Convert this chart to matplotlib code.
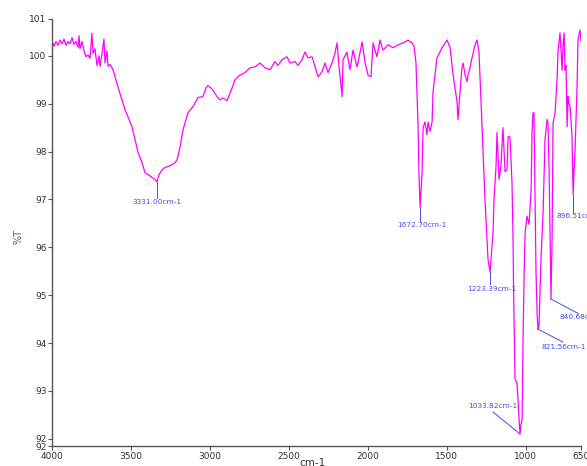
import matplotlib
matplotlib.use("Agg")
import matplotlib.pyplot as plt

# FTIR spectrum: wavenumber (cm-1) and %T, row by row
wavenumber = [
    4000, 3987, 3975, 3962, 3949, 3937, 3924, 3911, 3899, 3886, 3873, 3861,
    3848, 3835, 3829, 3823, 3810, 3797, 3785, 3772, 3759, 3747, 3740, 3728,
    3715, 3702, 3696, 3683, 3671, 3664, 3652, 3645, 3633, 3620, 3607, 3601,
    3582, 3557, 3538, 3519, 3494, 3474, 3455, 3430, 3411, 3392, 3367, 3348,
    3335, 3322, 3303, 3284, 3265, 3240, 3221, 3208, 3189, 3170, 3139, 3107,
    3075, 3044, 3025, 3012, 2987, 2955, 2936, 2917, 2892, 2860, 2841, 2809,
    2778, 2746, 2714, 2683, 2651, 2619, 2588, 2569, 2543, 2512, 2493, 2461,
    2442, 2417, 2398, 2379, 2353, 2334, 2315, 2290, 2271, 2252, 2227, 2208,
    2195, 2182, 2163, 2157, 2132, 2113, 2094, 2068, 2036, 2017, 1999, 1980,
    1967, 1942, 1923, 1904, 1872, 1840, 1809, 1777, 1745, 1720, 1707, 1695,
    1682, 1676, 1669, 1657, 1650, 1638, 1625, 1619, 1606, 1593, 1587, 1562,
    1530, 1498, 1479, 1460, 1435, 1429, 1416, 1404, 1397, 1384, 1372, 1365,
    1353, 1340, 1321, 1308, 1296, 1277, 1270, 1258, 1245, 1239, 1226, 1207,
    1201, 1188, 1182, 1169, 1157, 1144, 1131, 1118, 1112, 1100, 1087, 1081,
    1076, 1068, 1061, 1055, 1049, 1042, 1036, 1030, 1023, 1017, 1010, 1004,
    992, 979, 966, 960, 954, 948, 941, 935, 928, 922, 916, 903,
    890, 878, 865, 859, 852, 846, 840, 833, 827, 814, 802, 795,
    783, 776, 770, 764, 757, 751, 745, 738, 732, 726, 719, 707,
    700, 694, 688, 681, 675, 669, 662, 656, 650,
]
transmittance = [
    100.31, 100.20, 100.30, 100.22, 100.33, 100.25, 100.35, 100.22, 100.30, 100.25, 100.38, 100.24,
    100.30, 100.18, 100.42, 100.15, 100.30, 100.10, 99.98, 100.02, 99.95, 100.47, 100.05, 100.15,
    99.80, 100.00, 99.78, 100.05, 100.35, 99.85, 100.10, 99.78, 99.82, 99.75, 99.65, 99.56,
    99.35, 99.08, 98.88, 98.73, 98.52, 98.25, 97.98, 97.77, 97.56, 97.52, 97.46, 97.42,
    97.37, 97.52, 97.62, 97.67, 97.69, 97.73, 97.77, 97.83, 98.10, 98.46, 98.81, 98.94,
    99.13, 99.15, 99.33, 99.38, 99.31, 99.15, 99.08, 99.12, 99.06, 99.33, 99.50, 99.60,
    99.65, 99.75, 99.77, 99.85, 99.75, 99.71, 99.88, 99.80, 99.92, 99.98, 99.85, 99.88,
    99.80, 99.92, 100.08, 99.96, 99.98, 99.77, 99.56, 99.67, 99.85, 99.65, 99.85, 100.06,
    100.27, 99.77, 99.15, 99.92, 100.08, 99.71, 100.12, 99.77, 100.29, 99.85, 99.60, 99.56,
    100.27, 99.98, 100.33, 100.12, 100.23, 100.17, 100.23, 100.27, 100.33, 100.27, 100.19, 99.85,
    98.56, 97.52, 96.83, 97.52, 98.50, 98.62, 98.35, 98.62, 98.42, 98.62, 99.25, 99.96,
    100.17, 100.33, 100.17, 99.60, 99.04, 98.67, 99.25, 99.75, 99.85, 99.60, 99.46, 99.60,
    99.75, 99.96, 100.23, 100.33, 100.08, 98.56, 98.04, 97.00, 96.17, 95.75, 95.48, 96.31,
    97.00, 97.69, 98.40, 97.42, 97.69, 98.50, 97.58, 97.62, 98.31, 98.31, 97.35, 96.30,
    94.90, 93.25, 93.20, 93.15, 92.83, 92.40, 92.10, 92.30, 92.42, 94.08, 95.48, 96.30,
    96.65, 96.48, 97.20, 98.40, 98.81, 98.81, 97.00, 95.50, 94.60, 94.29, 94.35, 95.80,
    96.73, 98.25, 98.67, 98.60, 97.60, 96.20, 94.92, 96.20, 98.60, 98.81, 99.50, 100.12,
    100.48, 100.10, 99.70, 100.20, 100.48, 99.70, 99.80, 98.52, 99.15, 99.00, 98.94, 98.31,
    97.10, 97.60, 98.00, 98.70, 99.35, 100.33, 100.45, 100.54, 100.30,
]

peak_labels = ["3331.00cm-1", "1672.70cm-1", "1223.39cm-1", "1033.82cm-1",
               "821.56cm-1", "840.68cm-1", "896.51cm-1"]
# leader line: peak (x, y) -> (x, y), then label centre and alignment
peak_marks = [
    (3335, 97.37, 3335, 97.04),
    (1669, 96.83, 1669, 96.54),
    (1226, 95.48, 1226, 95.23),
    (1036, 92.10, 1207, 92.56),
    (922, 94.29, 764, 94.02),
    (840, 94.92, 669, 94.62),
    (700, 97.10, 700, 96.73),
]
label_pos = [
    (3335, 96.95, "center"), (1660, 96.46, "center"), (1213, 95.12, "center"),
    (1207, 92.69, "center"), (757, 93.92, "center"), (783, 94.54, "left"),
    (808, 96.65, "left"),
]

y_lo, y_hi = 91.85, 100.77
y_ticks = [y_lo, 92, 93, 94, 95, 96, 97, 98, 99, 100, y_hi]
y_ticklabels = ["92", "92", "93", "94", "95", "96", "97", "98", "99", "100", "101"]
x_ticks = [4000, 3500, 3000, 2500, 2000, 1500, 1000, 650]

fig = plt.figure(figsize=(5.87, 4.66), dpi=100)
ax = fig.add_axes([52 / 587, 20 / 466, 529 / 587, 427 / 466])

ax.plot(wavenumber, transmittance, color="#ff00ff", lw=0.9)

blue = "#4a4af0"
for txt, (px, py, lx, ly), (tx, ty, ha) in zip(peak_labels, peak_marks, label_pos):
    ax.plot([px, lx], [py, ly], color=blue, lw=0.7)
    ax.text(tx, ty, txt, color=blue, fontsize=5.3, ha=ha, va="center", clip_on=False)

ax.set_xlim(4000, 650)
ax.set_ylim(y_lo, y_hi)
ax.set_xticks(x_ticks)
ax.set_xticklabels([str(v) for v in x_ticks])
ax.set_yticks(y_ticks)
ax.set_yticklabels(y_ticklabels)

for side in ["top", "right"]:
    ax.spines[side].set_visible(False)
for side in ["left", "bottom"]:
    ax.spines[side].set_color("#555555")
    ax.spines[side].set_linewidth(1.0)
ax.tick_params(axis="both", labelsize=6.5, colors="#555555", labelcolor="#333333",
               length=3, width=0.8, pad=1)

fig.text(18 / 587, 1 - 237 / 466, "%T", rotation=90, color="#4a5a7a",
         fontsize=7, ha="center", va="center")
fig.text(313 / 587, 1 - 463 / 466, "cm-1", color="#333333", fontsize=7.5,
         ha="center", va="center")

fig.savefig("out.png", dpi=100)
